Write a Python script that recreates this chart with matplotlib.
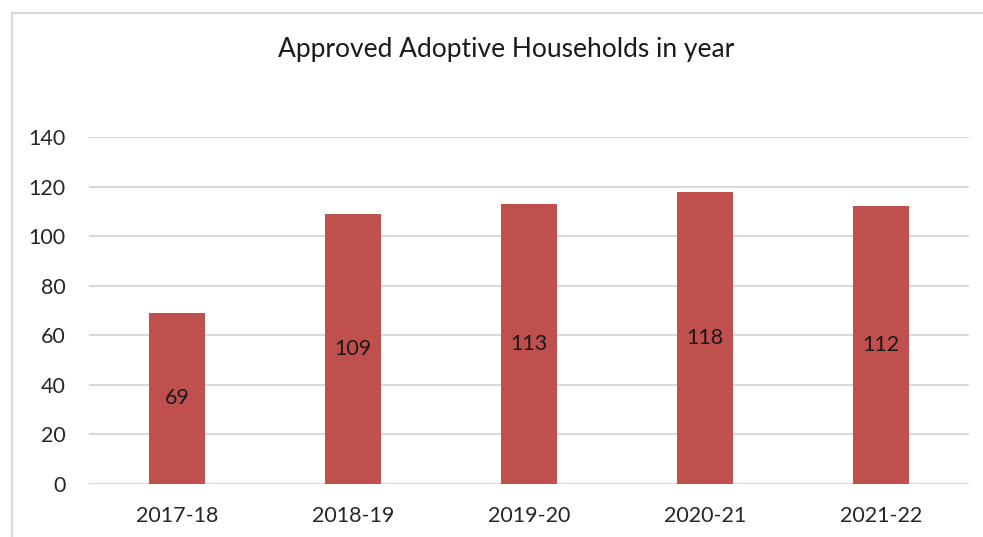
import matplotlib
matplotlib.use("Agg")
import matplotlib.pyplot as plt
from matplotlib.patches import Rectangle

years = ["2017-18", "2018-19", "2019-20", "2020-21", "2021-22"]
households = [69, 109, 113, 118, 112]

plt.rcParams['font.family'] = ['Lato', 'DejaVu Sans']

fig = plt.figure(figsize=(9.83, 5.37), dpi=100)
W, H = 983, 537

# chart border (cut off on the right and bottom)
fig.patches.append(Rectangle((12 / W, -0.1), 1.2, 1 - 13 / H + 0.1,
                             transform=fig.transFigure, fill=False,
                             edgecolor="#D9D9D9", linewidth=1.5))

ax = fig.add_axes([89 / W, 1 - 484 / H, (969 - 89) / W, (484 - 137) / H])
x = range(len(years))
bars = ax.bar(x, households, width=0.32, color="#C0504D", zorder=2)

ax.set_xlim(-0.5, len(years) - 0.5)
ax.set_ylim(0, 140)
ax.set_yticks(range(0, 141, 20))
ax.set_xticks(list(x))
ax.set_xticklabels(years)
ax.yaxis.grid(True, color="#D9D9D9", linewidth=1.5, zorder=0)
ax.set_axisbelow(True)
for s in ax.spines.values():
    s.set_visible(False)
ax.tick_params(length=0, labelsize=15.5, colors="#262626")
ax.tick_params(axis="y", pad=17)
ax.tick_params(axis="x", pad=16)

for b, v in zip(bars, households):
    ax.text(b.get_x() + b.get_width() / 2, v / 2, str(v),
            ha="center", va="center", fontsize=15.5, color="#1a1a1a")

fig.text(506 / W, 1 - 50 / H, "Approved Adoptive Households in year",
         ha="center", va="center", fontsize=19, color="#1a1a1a")

fig.savefig("out.png", dpi=100)
